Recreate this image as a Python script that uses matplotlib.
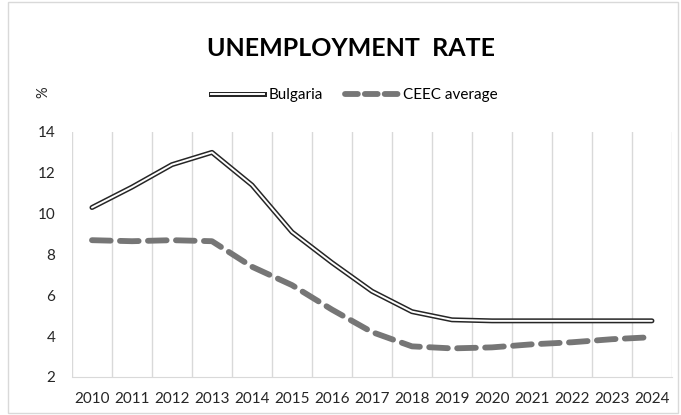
import matplotlib.pyplot as plt
import matplotlib.patheffects as pe
from matplotlib.lines import Line2D
from matplotlib.patches import Rectangle

plt.rcParams['font.family'] = ['Lato', 'DejaVu Sans']

years = [str(y) for y in range(2010, 2025)]
bulgaria = [10.3, 11.3, 12.4, 13.0, 11.4, 9.1, 7.6, 6.2, 5.2, 4.8, 4.75, 4.75, 4.75, 4.75, 4.75]
ceec = [8.7, 8.65, 8.7, 8.65, 7.4, 6.5, 5.3, 4.2, 3.5, 3.4, 3.45, 3.6, 3.7, 3.85, 3.95]

fig = plt.figure(figsize=(6.81, 4.15), dpi=100)
ax = fig.add_axes([0.1057, 0.0916, 0.881, 0.5904])

x = range(len(years))
dbl = [pe.Stroke(linewidth=3.6, foreground='#262626'), pe.Stroke(linewidth=1.4, foreground='white')]
ax.plot(x, bulgaria, color='white', lw=1.4, solid_capstyle='round', solid_joinstyle='round',
        path_effects=dbl, zorder=3)
ax.plot(x, ceec, color='#767676', lw=4.2, dashes=(3.2, 1.6), dash_capstyle='round', zorder=2)

ax.set_xlim(-0.5, len(years) - 0.5)
ax.set_ylim(2, 14)
ax.set_yticks(range(2, 15, 2))
ax.set_xticks(list(x))
ax.set_xticklabels(years)
for b in [i - 0.5 for i in range(len(years) + 1)]:
    ax.axvline(b, color='#d9d9d9', lw=1, zorder=0)
for s in ['top', 'right', 'left']:
    ax.spines[s].set_visible(False)
ax.spines['bottom'].set_color('#d9d9d9')
ax.tick_params(length=0, labelsize=11, colors='#262626')
ax.tick_params(axis='y', pad=12)
ax.tick_params(axis='x', pad=11)

fig.text(0.516, 0.884, 'UNEMPLOYMENT  RATE', ha='center', va='center', fontsize=18,
         fontweight='bold', color='black')
fig.text(0.063, 0.778, '%', ha='center', va='center', rotation=90, fontsize=10.5, color='#262626')

h1 = Line2D([], [], color='white', lw=1.4, path_effects=dbl)
h2 = Line2D([], [], color='#767676', lw=4.2, dashes=(2.2, 1.2), dash_capstyle='round')
fig.legend([h1, h2], ['Bulgaria', 'CEEC average'], loc='center', bbox_to_anchor=(0.52, 0.771),
           ncol=2, frameon=False, fontsize=11, handlelength=3.5, handletextpad=0.25,
           columnspacing=1.5)

fig.patches.append(Rectangle((0.012, 0.005), 0.983, 0.99, transform=fig.transFigure,
                             fill=False, edgecolor='#d9d9d9', lw=1))

fig.savefig('out.png', dpi=100)
